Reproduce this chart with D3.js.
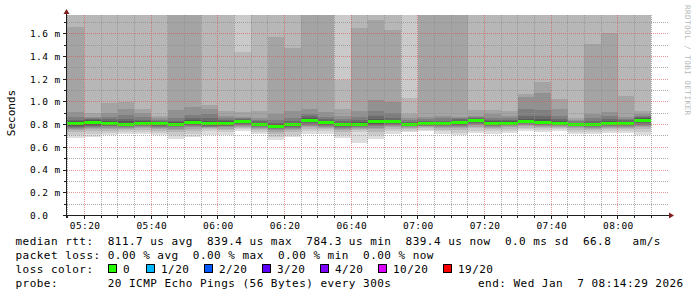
<!DOCTYPE html>
<html>
<head>
	<meta charset="UTF-8" />
	<title>smokeping - last 3 hours</title>
	<script src="https://cdn.jsdelivr.net/npm/d3@7"></script>
	<style>
		body { margin:0; background:#fff; }
		svg text { font-family:"DejaVu Sans Mono", monospace; white-space:pre; }
	</style>
</head>
<body>
	<svg id="chart" width="697" height="297"></svg>

	<script type="text/javascript">
		// end of every 5 min rrd step (one smoke column each)
		var barEnds = ["05:20","05:25","05:30","05:35","05:40","05:45","05:50","05:55",
			"06:00","06:05","06:10","06:15","06:20","06:25","06:30","06:35",
			"06:40","06:45","06:50","06:55","07:00","07:05","07:10","07:15",
			"07:20","07:25","07:30","07:35","07:40","07:45","07:50","07:55",
			"08:00","08:05","08:10"];

		// median rtt in ms
		var median = [0.807,0.818,0.812,0.805,0.812,0.806,0.804,0.822,0.811,0.811,
			0.827,0.803,0.784,0.800,0.838,0.816,0.800,0.805,0.825,0.825,
			0.799,0.807,0.807,0.821,0.834,0.813,0.813,0.827,0.821,0.812,
			0.800,0.800,0.810,0.812,0.839];

		// lost pings out of 20
		var loss = [0,0,0,0,0,0,0,0,0,0,0,0,0,0,0,0,0,0,0,0,0,0,0,0,0,0,0,0,0,0,0,0,0,0,0];

		// the 20 sorted ping times (ms) of each step
		var pings = [
			[0.685,0.712,0.738,0.752,0.763,0.772,0.781,0.790,0.797,0.803, 0.811,0.819,0.828,0.842,0.865,0.910,1.660,1.95,2.2,2.6],
			[0.690,0.715,0.742,0.758,0.770,0.781,0.790,0.800,0.808,0.814, 0.822,0.830,0.838,0.848,0.858,0.870,0.900,1.85,2.1,2.4],
			[0.706,0.725,0.748,0.762,0.774,0.784,0.792,0.799,0.805,0.809, 0.815,0.824,0.836,0.850,0.868,0.900,0.990,1.90,2.2,2.5],
			[0.720,0.735,0.750,0.762,0.772,0.781,0.789,0.795,0.800,0.803, 0.808,0.816,0.830,0.852,0.885,0.940,1.000,1.82,2.0,2.3],
			[0.720,0.738,0.755,0.767,0.777,0.786,0.794,0.801,0.806,0.810, 0.815,0.822,0.832,0.845,0.865,0.900,0.940,1.88,2.1,2.4],
			[0.706,0.728,0.748,0.762,0.773,0.782,0.790,0.797,0.801,0.804, 0.808,0.814,0.822,0.832,0.845,0.860,0.880,1.90,2.2,2.6],
			[0.677,0.705,0.732,0.750,0.764,0.775,0.785,0.793,0.799,0.802, 0.806,0.812,0.822,0.836,0.860,0.930,1.920,2.10,2.4,2.8],
			[0.690,0.718,0.745,0.762,0.775,0.786,0.796,0.805,0.813,0.819, 0.825,0.833,0.845,0.862,0.885,0.955,1.950,2.20,2.5,2.9],
			[0.706,0.742,0.758,0.768,0.776,0.782,0.788,0.796,0.803,0.808, 0.814,0.822,0.835,0.860,0.890,0.940,0.970,1.85,2.1,2.4],
			[0.706,0.735,0.752,0.765,0.775,0.784,0.792,0.799,0.805,0.809, 0.813,0.820,0.830,0.845,0.860,0.880,0.918,1.90,2.2,2.5],
			[0.741,0.758,0.772,0.782,0.791,0.799,0.806,0.813,0.819,0.824, 0.830,0.836,0.843,0.850,0.858,0.870,0.910,1.44,1.95,2.3],
			[0.715,0.735,0.752,0.764,0.774,0.782,0.789,0.795,0.799,0.801, 0.805,0.810,0.818,0.828,0.842,0.860,0.918,1.90,2.2,2.5],
			[0.662,0.692,0.720,0.738,0.750,0.760,0.768,0.775,0.780,0.782, 0.786,0.792,0.802,0.818,0.845,0.897,1.573,1.90,2.2,2.5],
			[0.690,0.712,0.735,0.750,0.762,0.772,0.781,0.789,0.795,0.798, 0.802,0.808,0.818,0.832,0.855,0.920,1.476,1.85,2.1,2.4],
			[0.715,0.740,0.762,0.778,0.790,0.800,0.810,0.820,0.829,0.835, 0.841,0.848,0.858,0.872,0.895,0.940,1.950,2.20,2.5,2.9],
			[0.720,0.740,0.758,0.771,0.782,0.791,0.799,0.806,0.811,0.814, 0.818,0.824,0.833,0.846,0.868,0.910,1.900,2.10,2.4,2.8],
			[0.685,0.710,0.733,0.749,0.761,0.772,0.781,0.789,0.795,0.798, 0.802,0.808,0.816,0.828,0.848,0.880,0.935,1.19,1.9,2.3],
			[0.638,0.735,0.752,0.764,0.774,0.782,0.789,0.795,0.800,0.803, 0.807,0.813,0.822,0.838,0.865,0.918,1.653,1.90,2.2,2.5],
			[0.673,0.705,0.738,0.758,0.772,0.785,0.796,0.806,0.815,0.821, 0.829,0.838,0.852,0.875,0.920,1.015,1.720,1.95,2.2,2.6],
			[0.720,0.742,0.762,0.776,0.788,0.798,0.806,0.813,0.819,0.823, 0.827,0.834,0.845,0.862,0.900,1.000,1.632,1.90,2.1,2.4],
			[0.735,0.748,0.760,0.769,0.777,0.784,0.790,0.794,0.797,0.798, 0.800,0.804,0.811,0.822,0.838,0.860,0.897,1.03,1.9,2.3],
			[0.741,0.755,0.767,0.777,0.785,0.792,0.797,0.801,0.804,0.806, 0.808,0.812,0.820,0.832,0.848,0.868,1.950,2.20,2.5,2.9],
			[0.720,0.740,0.757,0.770,0.780,0.788,0.795,0.800,0.804,0.806, 0.808,0.813,0.822,0.836,0.855,0.880,1.900,2.10,2.4,2.8],
			[0.706,0.730,0.752,0.768,0.780,0.791,0.800,0.808,0.815,0.819, 0.823,0.828,0.836,0.846,0.856,0.868,1.920,2.20,2.5,2.9],
			[0.726,0.748,0.768,0.783,0.795,0.806,0.815,0.823,0.829,0.832, 0.836,0.842,0.850,0.860,0.870,0.880,0.926,1.90,2.2,2.5],
			[0.720,0.740,0.758,0.771,0.782,0.791,0.799,0.805,0.809,0.812, 0.815,0.820,0.828,0.840,0.862,0.890,0.926,1.85,2.1,2.4],
			[0.730,0.748,0.764,0.776,0.786,0.794,0.801,0.806,0.810,0.812, 0.815,0.820,0.828,0.840,0.858,0.880,0.918,1.90,2.2,2.6],
			[0.741,0.758,0.773,0.785,0.795,0.803,0.810,0.816,0.821,0.825, 0.830,0.838,0.852,0.875,0.940,1.045,1.068,1.90,2.2,2.5],
			[0.735,0.752,0.768,0.780,0.790,0.798,0.805,0.811,0.816,0.819, 0.824,0.832,0.848,0.875,0.930,1.080,1.176,1.90,2.2,2.5],
			[0.744,0.758,0.771,0.781,0.789,0.796,0.801,0.805,0.809,0.811, 0.814,0.820,0.830,0.848,0.880,0.935,1.024,1.90,2.2,2.5],
			[0.720,0.738,0.754,0.766,0.776,0.784,0.790,0.795,0.798,0.799, 0.801,0.805,0.810,0.818,0.828,0.840,0.862,1.85,2.1,2.4],
			[0.715,0.733,0.750,0.763,0.773,0.782,0.789,0.794,0.798,0.799, 0.802,0.808,0.818,0.835,0.860,0.890,1.509,1.90,2.2,2.5],
			[0.726,0.744,0.760,0.772,0.782,0.790,0.797,0.802,0.806,0.808, 0.812,0.820,0.832,0.850,0.878,0.910,1.603,1.90,2.2,2.5],
			[0.730,0.746,0.761,0.773,0.783,0.791,0.798,0.804,0.808,0.810, 0.814,0.819,0.827,0.838,0.852,0.868,1.050,1.85,2.1,2.4],
			[0.706,0.732,0.758,0.775,0.789,0.801,0.812,0.822,0.830,0.836, 0.842,0.848,0.856,0.864,0.876,0.890,0.918,1.90,2.2,2.5]
		];

		// loss colour legend
		var lossSteps = [0, 1, 2, 3, 4, 10, 19];
		var lossLabels = ["0", "1/20", "2/20", "3/20", "4/20", "10/20", "19/20"];
		var lossColors = ["#26ff00", "#00b8ff", "#0059ff", "#5e00ff", "#7e00ff", "#dd00ff", "#ff0000"];

		var yTicks = [0, 0.2, 0.4, 0.6, 0.8, 1.0, 1.2, 1.4, 1.6];
		var yMinor = [0.1, 0.3, 0.5, 0.7, 0.9, 1.1, 1.3, 1.5, 1.7];

		var legendLines = [
			"median rtt:  811.7 us avg  839.4 us max  784.3 us min  839.4 us now  0.0 ms sd  66.8   am/s",
			"packet loss: 0.00 % avg  0.00 % max  0.00 % min  0.00 % now"
		];

		var parseT = d3.timeParse("%Y-%m-%d %H:%M:%S");
		var tStart = parseT("2026-01-07 05:14:29");
		var tEnd = parseT("2026-01-07 08:14:29");

		var svg = d3.select("#chart");
		svg.append("rect").attr("width", 697).attr("height", 297).attr("fill", "#fff");

		var x = d3.scaleTime().domain([tStart, tEnd]).range([66, 666]);
		var y = d3.scaleLinear().domain([0, 1.765]).range([215.5, 15]);
		var px = function(v) { return Math.floor(v) + 0.5; };

		svg.append("clipPath").attr("id", "plotclip")
			.append("rect").attr("x", 67).attr("y", 15).attr("width", 599.5).attr("height", 200);

		var plot = svg.append("g").attr("clip-path", "url(#plotclip)").attr("shape-rendering", "crispEdges");

		// smoke: pair i = i-th fastest with i-th slowest, darker towards the middle
		var half = 10;
		var grey = function(i) {
			var c = Math.floor(190 / half * (half - i)) + 50;
			return d3.rgb(c, c, c).formatHex();
		};

		var bars = barEnds.map(function(s, i) {
			var end = parseT("2026-01-07 " + s + ":00");
			var start = i === 0 ? tStart : d3.timeMinute.offset(end, -5);
			return { x0: x(start), x1: x(end), p: pings[i], med: median[i], loss: loss[i] };
		});

		bars.forEach(function(b) {
			for (var i = 1; i <= half; i++) {
				var lo = b.p[i - 1], hi = b.p[20 - i];
				plot.append("rect")
					.attr("x", b.x0).attr("width", b.x1 - b.x0)
					.attr("y", y(hi)).attr("height", y(lo) - y(hi))
					.attr("fill", grey(i));
			}
		});

		var lossColor = function(l) {
			var c = lossColors[0];
			lossSteps.forEach(function(s, k) { if (l >= s) c = lossColors[k]; });
			return c;
		};

		plot.selectAll("rect.med").data(bars).enter().append("rect")
			.attr("class", "med")
			.attr("x", function(d) { return d.x0; })
			.attr("width", function(d) { return d.x1 - d.x0; })
			.attr("y", function(d) { return y(d.med) - 1.5; })
			.attr("height", 3)
			.attr("fill", function(d) { return lossColor(d.loss); });

		// grid on top of the graph
		var grid = svg.append("g").attr("shape-rendering", "crispEdges").attr("stroke-dasharray", "1,1");
		var minorCol = "rgba(143,143,143,0.75)";
		var majorCol = "rgba(222,79,79,0.6)";

		var minT = x.ticks(d3.timeMinute.every(5));
		var isMajor = function(t) { return t.getMinutes() % 20 === 0; };

		grid.selectAll("line.vmin").data(minT.filter(function(t) { return !isMajor(t); })).enter().append("line")
			.attr("x1", function(d) { return px(x(d)); }).attr("x2", function(d) { return px(x(d)); })
			.attr("y1", 15).attr("y2", 215).attr("stroke", minorCol);
		grid.selectAll("line.hmin").data(yMinor).enter().append("line")
			.attr("x1", 67).attr("x2", 669)
			.attr("y1", function(d) { return px(y(d)); }).attr("y2", function(d) { return px(y(d)); })
			.attr("stroke", minorCol);
		grid.selectAll("line.vmaj").data(minT.filter(isMajor)).enter().append("line")
			.attr("x1", function(d) { return px(x(d)); }).attr("x2", function(d) { return px(x(d)); })
			.attr("y1", 15).attr("y2", 215).attr("stroke", majorCol);
		grid.selectAll("line.hmaj").data(yTicks.slice(1)).enter().append("line")
			.attr("x1", 67).attr("x2", 669)
			.attr("y1", function(d) { return px(y(d)); }).attr("y2", function(d) { return px(y(d)); })
			.attr("stroke", majorCol);

		// axes, ticks and arrows
		var axisCol = "#1f1f1f";
		var ax = svg.append("g").attr("shape-rendering", "crispEdges");
		ax.append("line").attr("x1", 63).attr("x2", 670).attr("y1", 215.5).attr("y2", 215.5).attr("stroke", axisCol);
		ax.append("line").attr("x1", 66.5).attr("x2", 66.5).attr("y1", 218).attr("y2", 13).attr("stroke", axisCol);

		minT.forEach(function(t) {
			ax.append("line").attr("x1", px(x(t))).attr("x2", px(x(t)))
				.attr("y1", 215).attr("y2", isMajor(t) ? 219 : 218).attr("stroke", axisCol);
		});
		yTicks.concat(yMinor).forEach(function(v) {
			ax.append("line").attr("x1", yTicks.indexOf(v) >= 0 ? 63 : 64).attr("x2", 67)
				.attr("y1", px(y(v))).attr("y2", px(y(v))).attr("stroke", axisCol);
		});

		svg.append("path").attr("d", "M66.5,9 L69.5,14 L63.5,14 Z").attr("fill", "#7f1f1f");
		svg.append("path").attr("d", "M674,215.5 L669,212.5 L669,218.5 Z").attr("fill", "#7f1f1f");

		// axis labels
		var fmt = d3.timeFormat("%H:%M");
		svg.selectAll("text.xl").data(minT.filter(isMajor)).enter().append("text")
			.attr("x", function(d) { return x(d) + 0.7; }).attr("y", 228.8)
			.attr("text-anchor", "middle")
			.attr("font-size", "9.5px").attr("letter-spacing", "0.4px")
			.text(function(d) { return fmt(d); });

		svg.selectAll("text.yl").data(yTicks).enter().append("text")
			.attr("x", 30).attr("y", function(d) { return y(d) + 3.4; })
			.attr("font-size", "9.5px").attr("letter-spacing", "0.4px")
			.text(function(d) { return d === 0 ? "0.0" : d.toFixed(1) + " m"; });

		svg.append("text")
			.attr("transform", "translate(15,113) rotate(-90)")
			.attr("text-anchor", "middle").attr("font-size", "11px")
			.text("Seconds");

		svg.append("text")
			.attr("transform", "translate(684.5,5) rotate(90)")
			.attr("font-size", "7.6px").attr("letter-spacing", "0.45px")
			.attr("fill", "#b8b8b8")
			.text("RRDTOOL / TOBI OETIKER");

		// legend
		var leg = svg.append("g").attr("font-size", "11px").attr("letter-spacing", "0.47px");
		legendLines.forEach(function(s, i) {
			leg.append("text").attr("x", 15.5).attr("y", 244.5 + i * 14.2).text(s);
		});
		leg.append("text").attr("x", 15.5).attr("y", 272.9).text("loss color:");

		var boxX = [107.5, 145.5, 203.5, 261.5, 319.5, 377.5, 442.5];
		lossLabels.forEach(function(l, k) {
			leg.append("rect").attr("x", boxX[k] + 0.5).attr("y", 264.5).attr("width", 8).attr("height", 8)
				.attr("fill", lossColors[k]).attr("stroke", "#000").attr("shape-rendering", "crispEdges");
			leg.append("text").attr("x", boxX[k] + 15.5).attr("y", 272.9).text(l);
		});

		leg.append("text").attr("x", 15.5).attr("y", 287.1).text("probe:       20 ICMP Echo Pings (56 Bytes) every 300s");
		leg.append("text").attr("x", 478).attr("y", 287.1).text("end: Wed Jan  7 08:14:29 2026");
	</script>
</body>
</html>
